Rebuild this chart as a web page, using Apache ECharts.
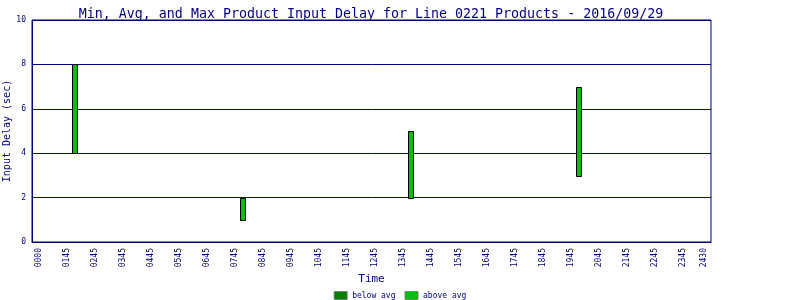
<!DOCTYPE html>
<html>
<head>
<meta charset="utf-8">
<script src="https://cdn.jsdelivr.net/npm/echarts@6/dist/echarts.min.js"></script>
<style>html,body{margin:0;padding:0;background:#fff;}#c{width:800px;height:300px;}</style>
</head>
<body>
<div id="c"></div>
<script>
// Data
const tickLabels = ['0000','0145','0245','0345','0445','0545','0645','0745','0845','0945','1045','1145','1245','1345','1445','1545','1645','1745','1845','1945','2045','2145','2245','2345','2430'];
const tickMinutes = [45,105,165,225,285,345,405,465,525,585,645,705,765,825,885,945,1005,1065,1125,1185,1245,1305,1365,1425,1470];
const barTimes = [120, 480, 840, 1200];
const minVals = [4, 1, 2, 3];
const avgVals = [4, 1, 2, 3];
const maxVals = [8, 2, 5, 7];

const NAVY = '#000080';
const FONT = 'DejaVu Sans Mono';

const belowData = barTimes.map((t, i) => [t, minVals[i], avgVals[i]]);
const aboveData = barTimes.map((t, i) => [t, avgVals[i], maxVals[i]]);

function renderSeg(params, api) {
  const x = api.value(0), lo = api.value(1), hi = api.value(2);
  if (hi <= lo) return null;
  const p1 = api.coord([x, hi]);
  const p2 = api.coord([x, lo]);
  const w = 5;
  return {
    type: 'rect',
    shape: {x: Math.round(p1[0] - w / 2) + 0.5, y: Math.round(p1[1]) + 0.5, width: w, height: Math.round(p2[1] - p1[1])},
    style: {fill: api.visual('color'), stroke: '#000000', lineWidth: 1}
  };
}

const chart = echarts.init(document.getElementById('c'), null, {renderer: 'canvas'});
chart.setOption({
  animation: false,
  backgroundColor: '#ffffff',
  title: {
    text: 'Min, Avg, and Max Product Input Delay for Line 0221 Products - 2016/09/29',
    left: 366, top: 3, textAlign: 'center',
    textStyle: {fontFamily: FONT, fontSize: 13.3, fontWeight: 'normal', color: NAVY}
  },
  legend: {
    data: ['below avg', 'above avg'],
    left: 'center', top: 286,
    icon: 'rect', itemWidth: 13, itemHeight: 8, itemGap: 9,
    itemStyle: {borderColor: '#808080', borderWidth: 1},
    textStyle: {fontFamily: FONT, fontSize: 8, color: NAVY}
  },
  grid: {left: 32, right: 89, top: 20, bottom: 58, show: true, borderColor: NAVY, borderWidth: 1, containLabel: false, outerBoundsMode: 'none'},
  xAxis: {
    type: 'value', min: 30, max: 1485, interval: 15,
    name: 'Time', nameLocation: 'middle', nameGap: 32, nameMoveOverlap: false,
    nameTextStyle: {fontFamily: FONT, fontSize: 11, color: NAVY},
    axisLine: {show: true, lineStyle: {color: NAVY}},
    axisTick: {show: false},
    splitLine: {show: false},
    axisLabel: {
      rotate: 90, margin: 6, fontFamily: FONT, fontSize: 8, color: NAVY,
      showMinLabel: true, showMaxLabel: true,
      formatter: function (v) {
        const idx = tickMinutes.indexOf(Math.round(v));
        return idx >= 0 ? tickLabels[idx] : '';
      }
    }
  },
  yAxis: {
    type: 'value', min: 0, max: 10, interval: 2,
    name: 'Input Delay (sec)', nameLocation: 'middle', nameGap: 20, nameMoveOverlap: false,
    nameTextStyle: {fontFamily: FONT, fontSize: 10, color: NAVY},
    axisLine: {show: true, lineStyle: {color: NAVY}},
    axisTick: {show: false},
    splitLine: {show: true, lineStyle: {color: NAVY, width: 1}},
    axisLabel: {margin: 6, fontFamily: FONT, fontSize: 8, color: NAVY}
  },
  series: [
    {
      name: 'below avg', type: 'custom', renderItem: renderSeg,
      encode: {x: 0, y: [1, 2]}, data: belowData,
      itemStyle: {color: '#008000'}
    },
    {
      name: 'above avg', type: 'custom', renderItem: renderSeg,
      encode: {x: 0, y: [1, 2]}, data: aboveData,
      itemStyle: {color: '#00c000'}
    }
  ]
});
</script>
</body>
</html>
